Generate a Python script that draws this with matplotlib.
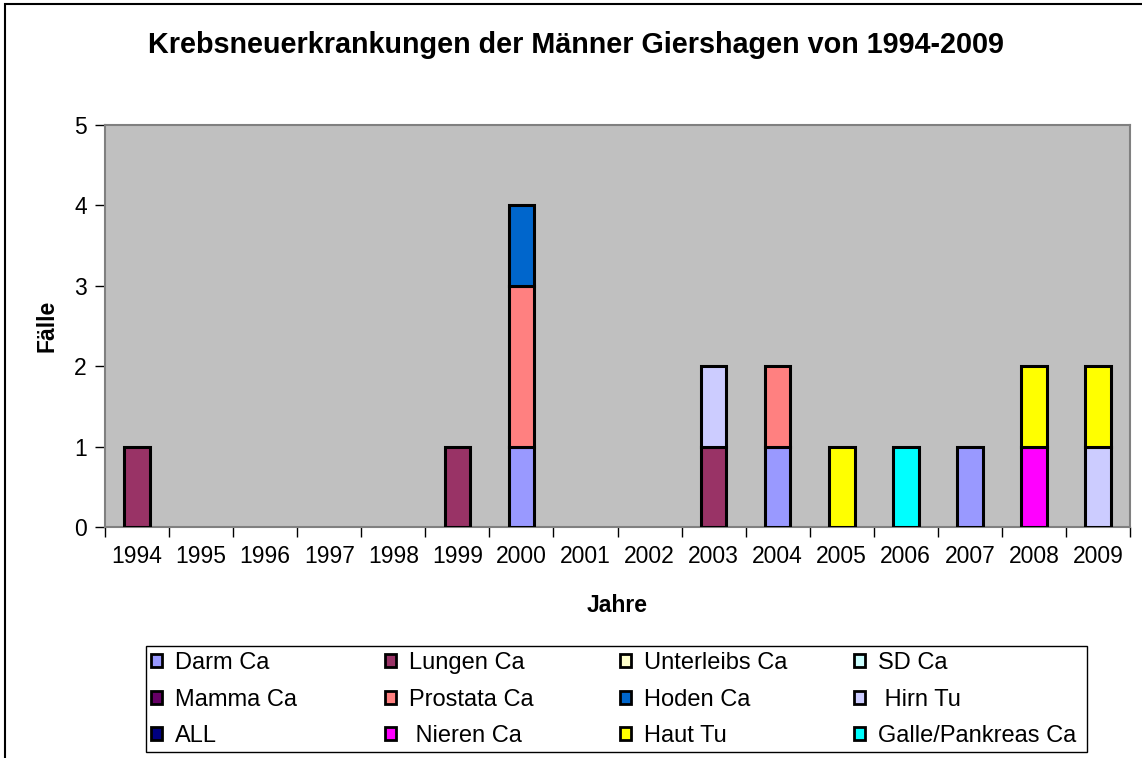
"""
Krebsneuerkrankungen der Maenner Giershagen 1994-2009 as stacked bars
"""

import numpy as np
import matplotlib
matplotlib.use("Agg")
import matplotlib.pyplot as plt
from matplotlib.patches import Rectangle, Patch

plt.rcParams['font.family'] = ['Liberation Sans', 'DejaVu Sans']

years = ['1994', '1995', '1996', '1997', '1998', '1999', '2000', '2001',
         '2002', '2003', '2004', '2005', '2006', '2007', '2008', '2009']

# cases per year, one list per cancer type (stacking order bottom -> top)
darm_ca = [0, 0, 0, 0, 0, 0, 1, 0, 0, 0, 1, 0, 0, 1, 0, 0]
lungen_ca = [1, 0, 0, 0, 0, 1, 0, 0, 0, 1, 0, 0, 0, 0, 0, 0]
unterleibs_ca = [0] * 16
sd_ca = [0] * 16
mamma_ca = [0] * 16
prostata_ca = [0, 0, 0, 0, 0, 0, 2, 0, 0, 0, 1, 0, 0, 0, 0, 0]
hoden_ca = [0, 0, 0, 0, 0, 0, 1, 0, 0, 0, 0, 0, 0, 0, 0, 0]
hirn_tu = [0, 0, 0, 0, 0, 0, 0, 0, 0, 1, 0, 0, 0, 0, 0, 1]
all_ = [0] * 16
nieren_ca = [0, 0, 0, 0, 0, 0, 0, 0, 0, 0, 0, 0, 0, 0, 1, 0]
haut_tu = [0, 0, 0, 0, 0, 0, 0, 0, 0, 0, 0, 1, 0, 0, 1, 1]
galle_ca = [0, 0, 0, 0, 0, 0, 0, 0, 0, 0, 0, 0, 1, 0, 0, 0]

labels = ['Darm Ca', 'Lungen Ca', 'Unterleibs Ca', 'SD Ca',
          'Mamma Ca', 'Prostata Ca', 'Hoden Ca', ' Hirn Tu',
          'ALL', ' Nieren Ca', 'Haut Tu', 'Galle/Pankreas Ca']
series = [darm_ca, lungen_ca, unterleibs_ca, sd_ca, mamma_ca, prostata_ca,
          hoden_ca, hirn_tu, all_, nieren_ca, haut_tu, galle_ca]
colors = ['#9999FF', '#993366', '#FFFFCC', '#CCFFFF', '#660066', '#FF8080',
          '#0066CC', '#CCCCFF', '#000080', '#FF00FF', '#FFFF00', '#00FFFF']

W, H = 1142, 758
FS = 16.5
fig = plt.figure(figsize=(W / 100, H / 100), dpi=100)
ax = fig.add_axes([105 / W, 1 - 527 / H, 1025 / W, 402 / H])
ax.set_facecolor('#C0C0C0')

x = np.arange(len(years))
bottom = np.zeros(len(years))
for vals, col in zip(series, colors):
    vals = np.array(vals, dtype=float)
    mask = vals > 0
    ax.bar(x[mask], vals[mask], width=0.4, bottom=bottom[mask], color=col,
           edgecolor='black', linewidth=2.2, zorder=3)
    bottom += vals

ax.set_xlim(-0.5, len(years) - 0.5)
ax.set_ylim(0, 5)
ax.set_yticks(range(6))
ax.set_xticks(x)
ax.set_xticklabels(years)
ax.set_xticks(np.arange(-0.5, len(years)), minor=True)
ax.tick_params(axis='x', which='major', length=0, labelsize=FS, pad=13)
ax.tick_params(axis='x', which='minor', length=7, width=1, color='black')
ax.tick_params(axis='y', length=7, width=1, color='black', labelsize=FS, pad=6)
for s in ax.spines.values():
    s.set_color('#808080')
    s.set_linewidth(1.5)

ax.set_xlabel('Jahre', fontsize=FS, fontweight='bold', labelpad=19)
ax.set_ylabel('Fälle', fontsize=FS, fontweight='bold', labelpad=11)
fig.text(576 / W, 1 - 45 / H, 'Krebsneuerkrankungen der Männer Giershagen von 1994-2009',
         ha='center', va='center', fontsize=20.7, fontweight='bold')

# legend: 4 columns, filled row by row
col_x = [151, 385, 620, 854]
for c in range(4):
    handles = [Patch(facecolor=colors[r * 4 + c], edgecolor='black', linewidth=2)
               for r in range(3)]
    names = [labels[r * 4 + c] for r in range(3)]
    fig.legend(handles, names, loc='upper left',
               bbox_to_anchor=(col_x[c] / W, 1 - 652 / H),
               frameon=False, fontsize=17, borderpad=0, borderaxespad=0,
               handlelength=0.48, handleheight=0.48, handletextpad=0.55,
               labelspacing=0.62)
fig.patches.append(Rectangle((146 / W, 1 - 752 / H), 941 / W, 106 / H,
                             transform=fig.transFigure, fill=False,
                             edgecolor='black', linewidth=1))

# chart frame
fig.patches.append(Rectangle((5 / W, -0.05), 1.1, 1 - 4 / H + 0.05,
                             transform=fig.transFigure, fill=False,
                             edgecolor='black', linewidth=1.5))

fig.savefig('out.png', dpi=100)
